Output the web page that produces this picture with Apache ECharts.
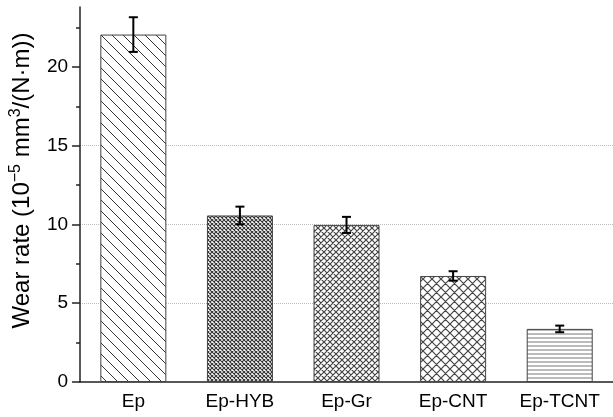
<!DOCTYPE html>
<html><head><meta charset="utf-8">
<script src="https://cdn.jsdelivr.net/npm/echarts@6/dist/echarts.min.js"></script>
<style>html,body{margin:0;padding:0;background:#fff}#c{width:613px;height:417px}</style>
</head><body><div id="c"></div>
<script>
const categories = ['Ep', 'Ep-HYB', 'Ep-Gr', 'Ep-CNT', 'Ep-TCNT'];
const wearRate = [22.05, 10.57, 9.97, 6.73, 3.37];
const wearErr = [1.1, 0.56, 0.51, 0.3, 0.21];
const yTickValues = [0, 5, 10, 15, 20];
const yName = 'Wear rate (10{sup|\u22125} mm{sup|3}/(N\u00b7m))';

function makePattern(kind, p, lw, color) {
  const c = document.createElement('canvas');
  c.width = p; c.height = p;
  const g = c.getContext('2d');
  g.fillStyle = '#fff'; g.fillRect(0, 0, p, p);
  g.strokeStyle = color; g.lineWidth = lw;
  g.beginPath();
  if (kind === 'back' || kind === 'cross') {
    g.moveTo(-p, -p); g.lineTo(2 * p, 2 * p);
    g.moveTo(-p, 0); g.lineTo(p, 2 * p);
    g.moveTo(0, -p); g.lineTo(2 * p, p);
  }
  if (kind === 'cross') {
    g.moveTo(2 * p, -p); g.lineTo(-p, 2 * p);
    g.moveTo(p, -p); g.lineTo(-p, p);
    g.moveTo(2 * p, 0); g.lineTo(0, 2 * p);
  }
  if (kind === 'horiz') {
    g.moveTo(0, p / 2); g.lineTo(p, p / 2);
  }
  g.stroke();
  return { image: c, repeat: 'repeat' };
}
const patterns = [
  makePattern('back', 11, 1, '#333'),
  makePattern('cross', 4, 1.1, '#333'),
  makePattern('cross', 6, 1.2, '#444'),
  makePattern('cross', 9, 1.2, '#444'),
  makePattern('horiz', 4, 1, '#777')
];

const chart = echarts.init(document.getElementById('c'));
const font = 'Liberation Sans, Arial, sans-serif';
chart.setOption({
  animation: false,
  backgroundColor: '#fff',
  grid: { left: 76, right: -3, top: 7, bottom: 35 },
  xAxis: [{
    type: 'category', data: categories,
    axisLine: { lineStyle: { color: '#222', width: 1.5 } },
    axisTick: { alignWithLabel: true, length: 6, lineStyle: { color: '#222', width: 1.5 } },
    axisLabel: { color: '#000', fontSize: 19, fontFamily: font, margin: 10 }
  }, {
    type: 'category', data: categories, position: 'bottom',
    axisLine: { show: false },
    axisTick: { length: 3, lineStyle: { color: '#222', width: 1.5 } },
    axisLabel: { show: false }
  }],
  yAxis: {
    type: 'value', min: 0, max: 23.8, interval: 5,
    name: yName, nameLocation: 'middle', nameGap: 41, nameRotate: 90,
    nameTextStyle: { color: '#000', fontSize: 24, fontFamily: font, lineHeight: 28, padding: [0, 0, 0, 28],
      rich: { sup: { fontSize: 16, fontFamily: font, verticalAlign: 'top', lineHeight: 28, color: '#000' } } },
    axisLine: { show: true, lineStyle: { color: '#222', width: 1.5 } },
    axisTick: { show: true, length: 8, customValues: yTickValues, lineStyle: { color: '#222', width: 1.5 } },
    minorTick: { show: true, splitNumber: 2, length: 4, lineStyle: { color: '#222', width: 1.5 } },
    axisLabel: { color: '#000', fontSize: 19, fontFamily: font, margin: 12, customValues: yTickValues },
    splitLine: { show: true, showMinLine: false, showMaxLine: false, lineStyle: { color: '#bbb', type: 'dotted', width: 1 } }
  },
  series: [{
    type: 'bar', barWidth: 66,
    data: wearRate.map((v, i) => ({ value: v, itemStyle: { color: patterns[i] } })),
    itemStyle: { borderColor: '#444', borderWidth: 1 }
  }, {
    type: 'custom',
    data: wearRate.map((v, i) => [i, v, wearErr[i]]),
    renderItem: function (params, api) {
      const i = api.value(0), v = api.value(1), e = api.value(2);
      const t = api.coord([i, v + e]), b = api.coord([i, v - e]);
      const w = 4.5;
      const st = { stroke: '#000', lineWidth: 2 };
      return { type: 'group', children: [
        { type: 'line', shape: { x1: t[0], y1: t[1], x2: b[0], y2: b[1] }, style: st },
        { type: 'line', shape: { x1: t[0] - w, y1: t[1], x2: t[0] + w, y2: t[1] }, style: st },
        { type: 'line', shape: { x1: b[0] - w, y1: b[1], x2: b[0] + w, y2: b[1] }, style: st }
      ] };
    },
    z: 5
  }]
});
</script></body></html>
